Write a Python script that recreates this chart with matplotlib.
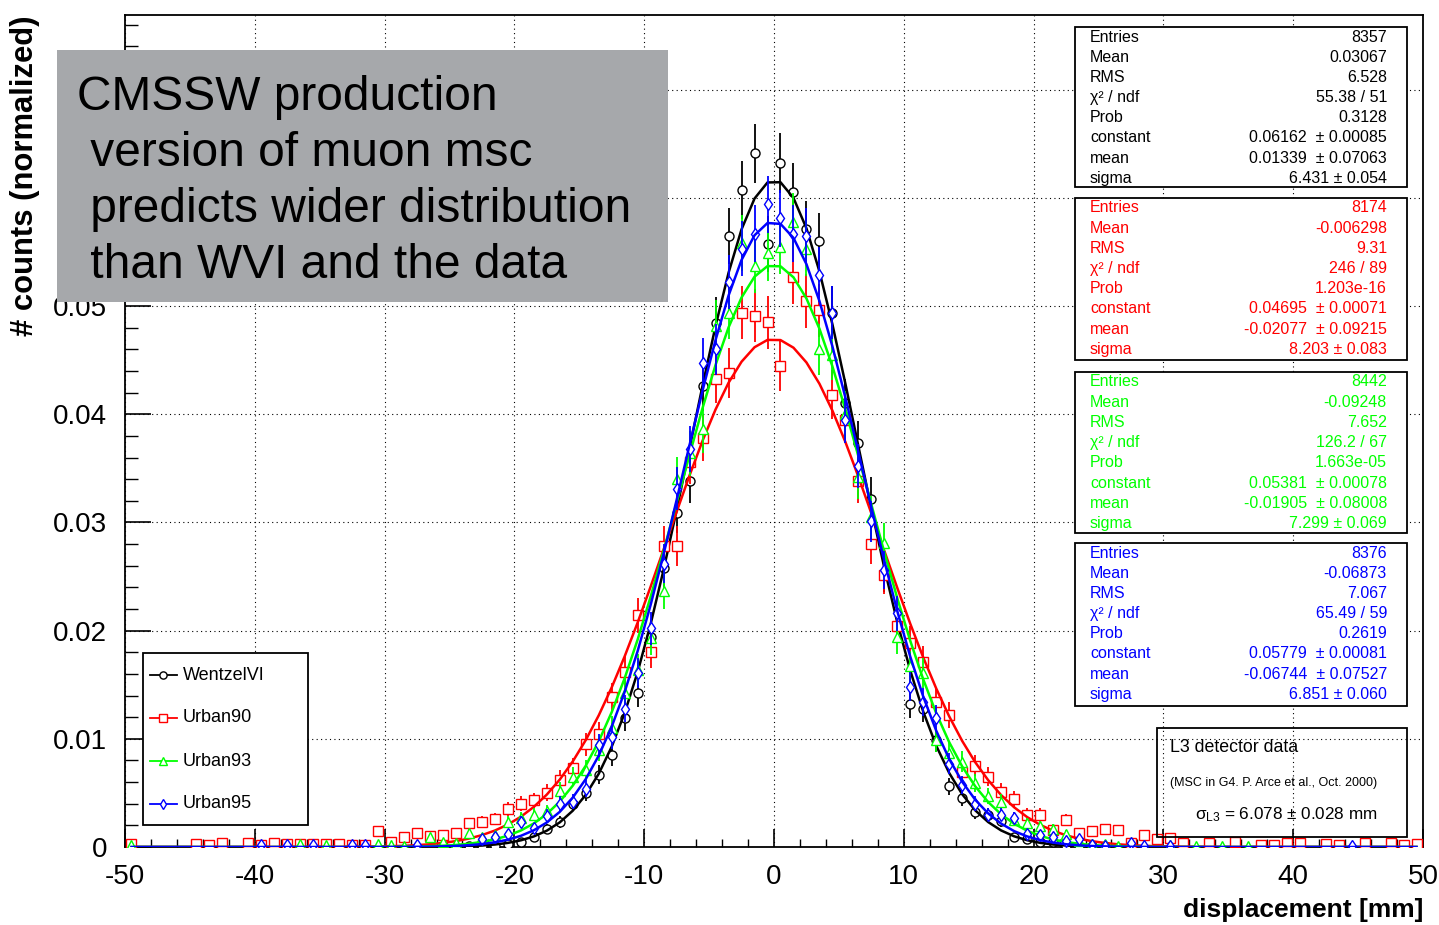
import numpy as np
import matplotlib.pyplot as plt
from matplotlib.patches import Rectangle
from matplotlib.lines import Line2D
from matplotlib.ticker import MultipleLocator, FuncFormatter

plt.rcParams["font.family"] = ["Liberation Sans", "DejaVu Sans"]
plt.rcParams["axes.unicode_minus"] = False
plt.rcParams["mathtext.fontset"] = "custom"
plt.rcParams["mathtext.rm"] = "Liberation Sans"
plt.rcParams["mathtext.it"] = "Liberation Sans"

# bin contents (normalized), 100 bins of 1 mm from -50 to 50
bin_centers = np.arange(-49.5, 50, 1.0)

wentzel = [
    0, 0, 0, 0, 0, 0, 0, 0, 0, 0,
    0, 0, 0, 0, 0, 0, 0, 0, 0, 0,
    0, 0, 0, 0, 0.0001, 0, 0.0001, 0.0001, 0.0001, 0.0003,
    0.0005, 0.0009, 0.0017, 0.0023, 0.0040, 0.0050, 0.0067, 0.0085, 0.0119, 0.0142,
    0.0194, 0.0258, 0.0309, 0.0338, 0.0426, 0.0484, 0.0565, 0.0607, 0.0641, 0.0557,
    0.0632, 0.0605, 0.0571, 0.0560, 0.0494, 0.0410, 0.0373, 0.0322, 0.0253, 0.0204,
    0.0132, 0.0128, 0.0099, 0.0056, 0.0045, 0.0032, 0.0030, 0.0024, 0.0009, 0.0007,
    0.0005, 0.0005, 0.0001, 0.0001, 0.0001, 0.0001, 0, 0, 0, 0,
    0, 0, 0, 0, 0, 0, 0, 0, 0, 0,
    0, 0, 0, 0, 0, 0, 0, 0, 0, 0,
]
urban90 = [
    0.0003, 0, 0, 0, 0, 0.0003, 0.0002, 0.0004, 0, 0.0004,
    0.0002, 0.0004, 0.0003, 0.0003, 0.0003, 0.0003, 0.0003, 0.0002, 0.0002, 0.0015,
    0.0005, 0.0009, 0.0013, 0.0010, 0.0011, 0.0013, 0.0022, 0.0023, 0.0026, 0.0035,
    0.0040, 0.0043, 0.0050, 0.0062, 0.0073, 0.0095, 0.0104, 0.0139, 0.0162, 0.0214,
    0.0180, 0.0278, 0.0278, 0.0356, 0.0378, 0.0433, 0.0438, 0.0494, 0.0491, 0.0485,
    0.0445, 0.0527, 0.0505, 0.0496, 0.0418, 0.0395, 0.0338, 0.0280, 0.0251, 0.0204,
    0.0189, 0.0171, 0.0134, 0.0122, 0.0069, 0.0075, 0.0065, 0.0051, 0.0044, 0.0030,
    0.0030, 0.0016, 0.0025, 0.0013, 0.0015, 0.0017, 0.0016, 0.0004, 0.0011, 0.0007,
    0.0008, 0.0004, 0, 0.0004, 0, 0.0005, 0, 0.0002, 0.0002, 0.0004,
    0.0004, 0, 0.0003, 0.0002, 0, 0.0004, 0, 0.0004, 0.0002, 0.0003,
]
urban93 = [
    0.0002, 0, 0, 0, 0, 0, 0, 0, 0, 0,
    0, 0, 0, 0.0003, 0, 0.0002, 0, 0, 0, 0.0003,
    0.0002, 0.0001, 0.0001, 0.0009, 0.0005, 0.0004, 0.0013, 0.0009, 0.0011, 0.0023,
    0.0027, 0.0030, 0.0033, 0.0052, 0.0065, 0.0071, 0.0090, 0.0110, 0.0142, 0.0164,
    0.0193, 0.0237, 0.0340, 0.0364, 0.0386, 0.0482, 0.0494, 0.0558, 0.0537, 0.0549,
    0.0555, 0.0578, 0.0553, 0.0460, 0.0455, 0.0400, 0.0342, 0.0305, 0.0281, 0.0194,
    0.0167, 0.0161, 0.0099, 0.0087, 0.0079, 0.0059, 0.0047, 0.0042, 0.0025, 0.0022,
    0.0019, 0.0017, 0.0012, 0.0006, 0.0003, 0.0003, 0.0001, 0, 0, 0,
    0.0002, 0, 0.0001, 0, 0.0001, 0, 0.0001, 0, 0, 0,
    0, 0, 0, 0, 0, 0, 0, 0, 0, 0,
]
urban95 = [
    0, 0, 0, 0, 0, 0, 0, 0, 0, 0,
    0.0002, 0, 0.0002, 0, 0.0002, 0, 0, 0.0002, 0.0002, 0,
    0, 0, 0.0002, 0, 0, 0, 0, 0.0007, 0.0009, 0.0012,
    0.0023, 0.0018, 0.0029, 0.0040, 0.0042, 0.0054, 0.0094, 0.0102, 0.0128, 0.0161,
    0.0202, 0.0262, 0.0331, 0.0368, 0.0447, 0.0460, 0.0522, 0.0553, 0.0567, 0.0594,
    0.0581, 0.0567, 0.0565, 0.0529, 0.0494, 0.0395, 0.0352, 0.0301, 0.0256, 0.0216,
    0.0148, 0.0134, 0.0119, 0.0077, 0.0057, 0.0040, 0.0030, 0.0030, 0.0027, 0.0012,
    0.0011, 0.0009, 0.0006, 0.0007, 0.0002, 0.0001, 0, 0.0004, 0.0001, 0,
    0.0001, 0, 0, 0, 0, 0, 0, 0, 0, 0,
    0, 0, 0, 0, 0.0001, 0, 0, 0, 0, 0,
]

names = ["WentzelVI", "Urban90", "Urban93", "Urban95"]
entries = [8357, 8174, 8442, 8376]
fit_const = [0.06162, 0.04695, 0.05381, 0.05779]
fit_mean = [0.01339, -0.02077, -0.01905, -0.06744]
fit_sigma = [6.431, 8.203, 7.299, 6.851]

stat_labels = ["Entries", "Mean", "RMS", "χ² / ndf", "Prob", "constant", "mean", "sigma"]
stats_wentzel = ["8357", "0.03067", "6.528", "55.38 / 51", "0.3128",
                 "0.06162  ± 0.00085", "0.01339  ± 0.07063", "6.431 ± 0.054"]
stats_urban90 = ["8174", "-0.006298", "9.31", "246 / 89", "1.203e-16",
                 "0.04695  ± 0.00071", "-0.02077  ± 0.09215", "8.203 ± 0.083"]
stats_urban93 = ["8442", "-0.09248", "7.652", "126.2 / 67", "1.663e-05",
                 "0.05381  ± 0.00078", "-0.01905  ± 0.08008", "7.299 ± 0.069"]
stats_urban95 = ["8376", "-0.06873", "7.067", "65.49 / 59", "0.2619",
                 "0.05779  ± 0.00081", "-0.06744  ± 0.07527", "6.851 ± 0.060"]

colors = ["black", "#ff0000", "#00ff00", "#0000ff"]
markers = ["o", "s", "^", "d"]
msizes = [6.5, 6.5, 7, 6]

W, H = 1439, 925
fig = plt.figure(figsize=(W / 100, H / 100), dpi=100)


def fx(px):
    return px / W


def fy(py):
    return 1 - py / H


ax = fig.add_axes([fx(125), fy(847), fx(1423) - fx(125), fy(15) - fy(847)])
ax.set_xlim(-50, 50)
ax.set_ylim(0, 0.0769)

ax.grid(True, which="major", color="black", linestyle=(0, (1, 3)), linewidth=0.8)
ax.set_axisbelow(True)

all_series = [wentzel, urban90, urban93, urban95]
for i, vals in enumerate(all_series):
    v = np.array(vals, dtype=float)
    keep = v > 0
    err = np.sqrt(v / entries[i])
    ax.errorbar(bin_centers[keep], v[keep], yerr=err[keep], fmt=markers[i],
                color=colors[i], mfc="white", mec=colors[i], ms=msizes[i],
                mew=1.0, elinewidth=1.3, capsize=0, zorder=3 + i)
    fit = fit_const[i] * np.exp(-0.5 * ((bin_centers - fit_mean[i]) / fit_sigma[i]) ** 2)
    ax.plot(bin_centers, fit, color=colors[i], lw=1.8, zorder=3.5 + i)


def ylab(v, p):
    if abs(v) < 1e-9:
        return "0"
    if v > 0.055:
        return ""  # hidden behind the note box
    return f"{v:.2f}"


ax.xaxis.set_major_locator(MultipleLocator(10))
ax.xaxis.set_minor_locator(MultipleLocator(2))
ax.yaxis.set_major_locator(MultipleLocator(0.01))
ax.yaxis.set_minor_locator(MultipleLocator(0.002))
ax.yaxis.set_major_formatter(FuncFormatter(ylab))
ax.tick_params(axis="x", which="major", direction="in", length=13, width=1.2,
               labelsize=20, pad=12)
ax.tick_params(axis="x", which="minor", direction="in", length=6, width=1.0)
ax.tick_params(axis="y", which="major", direction="in", length=19, width=1.2,
               labelsize=20, pad=13)
ax.tick_params(axis="y", which="minor", direction="in", length=9, width=1.0)
for s in ax.spines.values():
    s.set_linewidth(1.3)

fig.text(fx(1423), fy(910), "displacement [mm]", ha="right", va="center",
         fontsize=19, fontweight="bold")
fig.text(fx(25), fy(15), "# counts (normalized)", rotation=90, ha="center", va="top",
         fontsize=22.3, fontweight="bold")

# stats boxes
box_tops = [27, 198, 372, 543]
box_bots = [187, 360, 533, 706]
all_stats = [stats_wentzel, stats_urban90, stats_urban93, stats_urban95]
for i in range(4):
    fig.add_artist(Rectangle((fx(1075), fy(box_bots[i])), fx(1407) - fx(1075),
                             fy(box_tops[i]) - fy(box_bots[i]), transform=fig.transFigure,
                             facecolor="white", edgecolor="black", lw=1.3, zorder=10))
    for j, lab in enumerate(stat_labels):
        y = box_tops[i] + 10 + j * 20.2
        fig.text(fx(1090), fy(y), lab, ha="left", va="center", fontsize=11.5,
                 color=colors[i], zorder=11)
        fig.text(fx(1387), fy(y), all_stats[i][j], ha="right", va="center",
                 fontsize=11.5, color=colors[i], zorder=11)

# L3 box (transparent)
fig.add_artist(Rectangle((fx(1157), fy(837)), fx(1407) - fx(1157), fy(728) - fy(837),
                         transform=fig.transFigure, facecolor="none", edgecolor="black",
                         lw=1.3, zorder=10))
fig.text(fx(1170), fy(748), "L3 detector data", ha="left", va="center", fontsize=12.8, zorder=11)
fig.text(fx(1170), fy(783), "(MSC in G4. P. Arce et al., Oct. 2000)", ha="left", va="center",
         fontsize=9, zorder=11)
fig.text(fx(1195), fy(815), r"$\sigma_{\mathrm{L3}}$ = 6.078 ± 0.028 mm", ha="left",
         va="center", fontsize=12.3, zorder=11)

# legend
fig.add_artist(Rectangle((fx(143), fy(825)), fx(308) - fx(143), fy(653) - fy(825),
                         transform=fig.transFigure, facecolor="white", edgecolor="black",
                         lw=1.3, zorder=10))
leg_rows = [675, 718, 761, 804]
for i in range(4):
    fig.add_artist(Line2D([fx(150), fx(177)], [fy(leg_rows[i])] * 2, color=colors[i], lw=1.3,
                          transform=fig.transFigure, zorder=11))
    fig.add_artist(Line2D([fx(163)], [fy(leg_rows[i])], color=colors[i], marker=markers[i],
                          ms=msizes[i] * 0.8, mfc="white", mec=colors[i], mew=1.0,
                          transform=fig.transFigure, zorder=12))
    fig.text(fx(183), fy(leg_rows[i]), names[i], ha="left", va="center", fontsize=13, zorder=11)

# annotation box
fig.add_artist(Rectangle((fx(57), fy(302)), fx(668) - fx(57), fy(50) - fy(302),
                         transform=fig.transFigure, facecolor="#a6a8ab", edgecolor="none",
                         zorder=10))
note_lines = ["CMSSW production", " version of muon msc", " predicts wider distribution",
              " than WVI and the data"]
note_base = [110, 166, 222, 278]
for txt, yb in zip(note_lines, note_base):
    fig.text(fx(77), fy(yb), txt, ha="left", va="baseline", fontsize=34.5, zorder=11)

fig.savefig("out.png", dpi=100)
